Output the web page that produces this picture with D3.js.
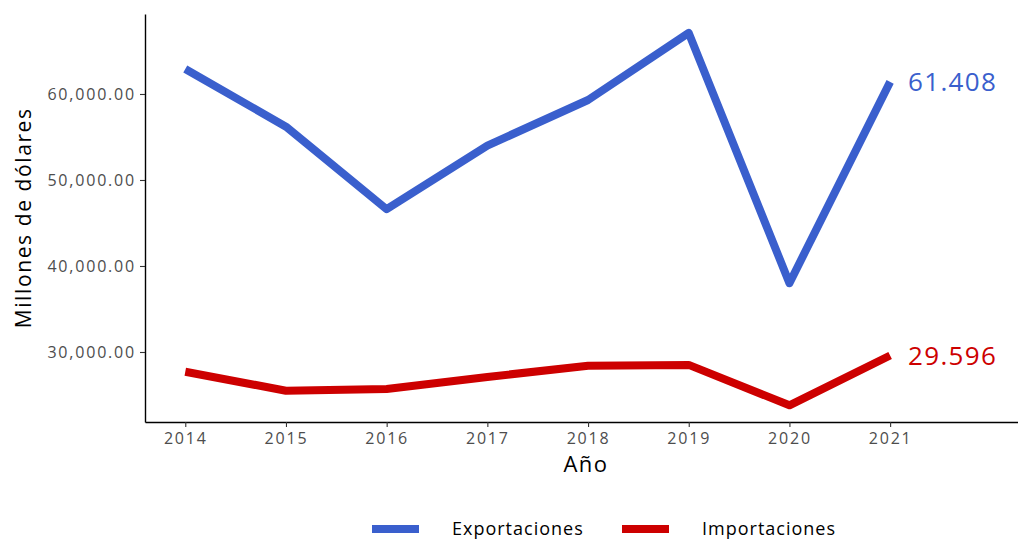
<!DOCTYPE html>
<html>
<head>
<meta charset="utf-8">
<script src="https://cdn.jsdelivr.net/npm/d3@7"></script>
<style>
  body { margin: 0; background: #fff; }
  text { font-family: "Open Sans", "DejaVu Sans", sans-serif; }
</style>
</head>
<body>
<script>
const years = [2014, 2015, 2016, 2017, 2018, 2019, 2020, 2021]
const exportaciones = [62900, 56200, 46600, 54000, 59300, 67100, 38000, 61408]
const importaciones = [27700, 25500, 25700, 27100, 28400, 28500, 23800, 29596]
const yTicks = [30000, 40000, 50000, 60000]
const seriesNames = ['Exportaciones', 'Importaciones']
const seriesColors = ['#3a5fcd', '#cd0000']
const endLabels = ['61.408', '29.596']

const width = 1018, height = 539
const margin = { top: 14, right: 0, bottom: 117, left: 145 }

const svg = d3.select('body').append('svg')
  .attr('width', width)
  .attr('height', height)

const x = d3.scaleLinear()
  .domain([2013.6, 2022.27])
  .range([margin.left, width - margin.right])

const y = d3.scaleLinear()
  .domain([21860, 69300])
  .range([height - margin.bottom, margin.top])

// axes
const xAxis = svg.append('g')
  .attr('transform', `translate(0, ${height - margin.bottom})`)
  .call(d3.axisBottom(x).tickValues(years).tickFormat(d3.format('d')).tickSize(5).tickSizeOuter(0).tickPadding(6))
xAxis.select('.domain').attr('stroke', '#000').attr('stroke-width', 1.4)
xAxis.selectAll('.tick line').attr('stroke', '#333').attr('stroke-width', 1.1)
xAxis.selectAll('.tick text').attr('fill', '#4d4d4d').attr('font-size', 16).attr('letter-spacing', 1.8)

const yAxis = svg.append('g')
  .attr('transform', `translate(${margin.left}, 0)`)
  .call(d3.axisLeft(y).tickValues(yTicks).tickFormat(d3.format(',.2f')).tickSize(5).tickSizeOuter(0).tickPadding(4))
yAxis.select('.domain').attr('stroke', '#000').attr('stroke-width', 1.4)
yAxis.selectAll('.tick line').attr('stroke', '#333').attr('stroke-width', 1.1)
yAxis.selectAll('.tick text').attr('fill', '#4d4d4d').attr('font-size', 16).attr('letter-spacing', 1.8)

// axis titles
svg.append('text')
  .attr('x', x(2017.98))
  .attr('y', 472)
  .attr('text-anchor', 'middle')
  .attr('font-size', 22)
  .attr('letter-spacing', 1.5)
  .text('Año')

svg.append('text')
  .attr('transform', `translate(31, ${y(45600)}) rotate(-90)`)
  .attr('text-anchor', 'middle')
  .attr('font-size', 21)
  .attr('letter-spacing', 1.6)
  .text('Millones de dólares')

// lines
const line = d3.line()
  .x((d, i) => x(years[i]))
  .y(d => y(d))

const allSeries = [exportaciones, importaciones]
allSeries.forEach((s, k) => {
  svg.append('path')
    .datum(s)
    .attr('d', line)
    .attr('fill', 'none')
    .attr('stroke', seriesColors[k])
    .attr('stroke-width', 8)
    .attr('stroke-linejoin', 'round')

  svg.append('text')
    .attr('x', x(2021) + 18)
    .attr('y', y(s[s.length - 1]))
    .attr('dy', '0.35em')
    .attr('fill', seriesColors[k])
    .attr('font-size', 26)
    .attr('letter-spacing', 1.3)
    .text(endLabels[k])
})

// legend
const legendX = [372, 622]
seriesNames.forEach((name, k) => {
  svg.append('line')
    .attr('x1', legendX[k]).attr('x2', legendX[k] + 47)
    .attr('y1', 529).attr('y2', 529)
    .attr('stroke', seriesColors[k])
    .attr('stroke-width', 8)
  svg.append('text')
    .attr('x', legendX[k] + 80)
    .attr('y', 529)
    .attr('dy', '0.35em')
    .attr('font-size', 18)
    .attr('letter-spacing', 1)
    .text(name)
})
</script>
</body>
</html>
